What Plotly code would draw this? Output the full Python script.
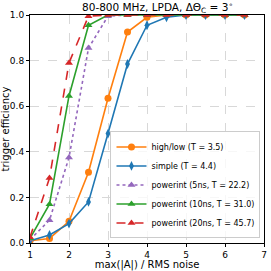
import plotly.graph_objects as go

x_vals = [1, 1.5, 2, 2.5, 3, 3.5, 4, 4.5, 5, 5.5, 6, 6.5]
highlow = [0.01, 0.02, 0.095, 0.31, 0.635, 0.925, 0.99, 1.0, 1.0, 1.0, 1.0, 1.0]
simple = [0.01, 0.035, 0.085, 0.18, 0.48, 0.785, 0.955, 0.99, 1.0, 1.0, 1.0, 1.0]
pi5 = [0.015, 0.10, 0.375, 0.855, 0.995, 1.0, 1.0, 1.0, 1.0, 1.0, 1.0, 1.0]
pi10 = [0.02, 0.17, 0.645, 0.955, 1.0, 1.0, 1.0, 1.0, 1.0, 1.0, 1.0, 1.0]
pi20 = [0.025, 0.285, 0.79, 0.995, 1.0, 1.0, 1.0, 1.0, 1.0, 1.0, 1.0, 1.0]
x_ticks = [1, 2, 3, 4, 5, 6, 7]
y_ticks = [0.0, 0.2, 0.4, 0.6, 0.8, 1.0]

names = ["high/low (T = 3.5)", "simple (T = 4.4)", "powerint (5ns, T = 22.2)",
         "powerint (10ns, T = 31.0)", "powerint (20ns, T = 45.7)"]
series = [highlow, simple, pi5, pi10, pi20]
colors = ["#ff7f0e", "#1f77b4", "#9467bd", "#2ca02c", "#d62728"]
symbols = ["circle", "diamond-tall", "triangle-up", "triangle-up", "triangle-up"]
dashes = ["solid", "solid", "dot", "solid", "dash"]

fig = go.Figure()
for n, s, c, m, d in zip(names, series, colors, symbols, dashes):
    fig.add_trace(go.Scatter(x=x_vals, y=s, name=n, mode="lines+markers",
                             line=dict(color=c, width=1.6, dash=d),
                             marker=dict(color=c, symbol=m, size=7)))

fig.update_layout(
    width=271, height=271,
    margin=dict(l=30, r=7, t=15, b=28, autoexpand=False),
    paper_bgcolor="white", plot_bgcolor="white",
    font=dict(family="DejaVu Sans", size=9, color="black"),
    title=dict(text="80-800 MHz, LPDA, ΔΘ<sub>C</sub> = 3<sup>∘</sup>", x=0.545, xanchor="center",
               xref="paper", y=1 - 7.5 / 271, yanchor="middle", yref="container",
               font=dict(size=10.5)),
    legend=dict(x=0.985, y=0.02, xanchor="right", yanchor="bottom",
                bgcolor="rgba(255,255,255,0.8)", bordercolor="#cccccc", borderwidth=1,
                font=dict(size=8), tracegroupgap=0, itemwidth=30),
    showlegend=True,
)
fig.update_xaxes(range=[1, 7], tickvals=x_ticks, showline=True, linecolor="black", linewidth=1,
                 mirror=True, ticks="outside", ticklen=3, tickcolor="black",
                 showgrid=True, gridcolor="#d8d8d8", griddash="dash", gridwidth=0.8,
                 zeroline=False, automargin=False,
                 title=dict(text="max(|A|) / RMS noise", font=dict(size=10), standoff=3))
fig.update_yaxes(range=[0, 1], tickvals=y_ticks, tickformat=".1f", showline=True, linecolor="black",
                 linewidth=1, mirror=True, ticks="outside", ticklen=3, tickcolor="black",
                 showgrid=True, gridcolor="#d8d8d8", griddash="dash", gridwidth=0.8,
                 zeroline=False, automargin=False,
                 title=dict(text="trigger efficiency", font=dict(size=10), standoff=3))

fig.write_html("out.html", config={"displayModeBar": False},
               post_script="document.body.style.margin='0';")
